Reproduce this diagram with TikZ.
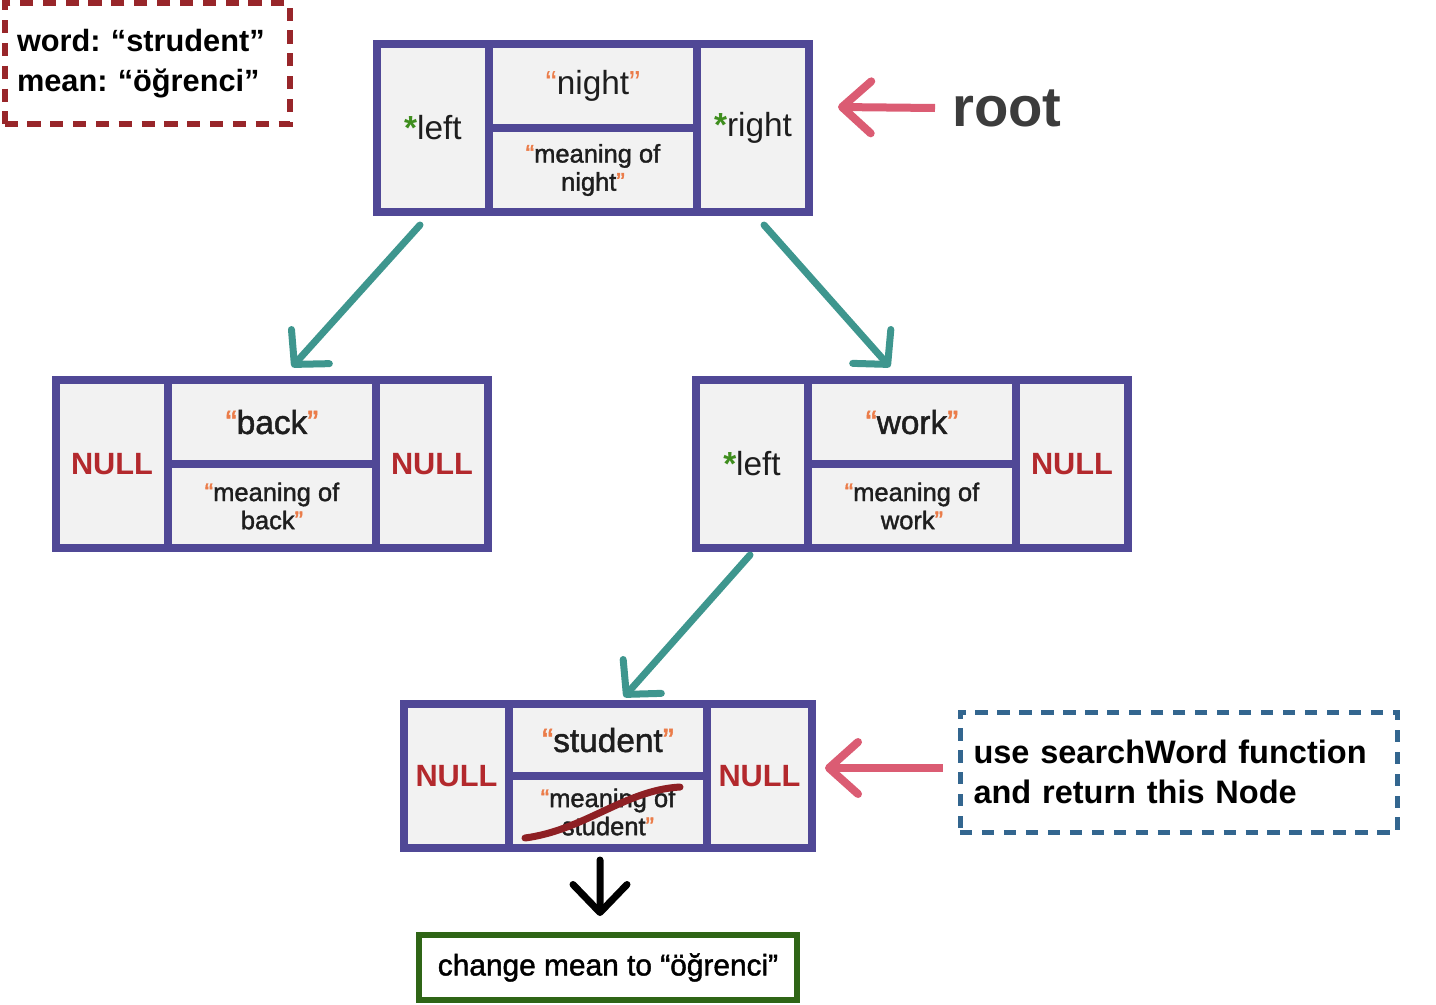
\documentclass[tikz,border=0pt]{standalone}
\usepackage{fontspec}
\setmainfont{Liberation Sans}
\newfontfamily\mediumfont{Liberation Sans}[FakeBold=1.5]
\usetikzlibrary{arrows.meta}
\definecolor{nodeframe}{RGB}{80,72,150}
\definecolor{cellfill}{RGB}{242,242,242}
\definecolor{edgeteal}{RGB}{62,150,142}
\definecolor{nullred}{RGB}{179,41,45}
\definecolor{stargreen}{RGB}{63,142,30}
\definecolor{quoteorange}{RGB}{235,124,73}
\definecolor{pointerpink}{RGB}{219,92,115}
\definecolor{inputred}{RGB}{152,38,42}
\definecolor{noteblue}{RGB}{51,102,143}
\definecolor{resultgreen}{RGB}{47,101,22}
\definecolor{strikered}{RGB}{142,32,36}
\definecolor{rootgray}{RGB}{60,60,60}
\definecolor{inktext}{RGB}{30,30,30}
\newlength{\px}
\setlength{\px}{0.02cm}
\newcommand{\quoted}[1]{{\color{quoteorange}“}#1{\color{quoteorange}”}}
\newcommand{\ptr}[1]{{\bfseries\color{stargreen}*}#1}
\newcommand{\nullPtr}[0]{{\bfseries\color{nullred}NULL}}
\newcommand{\wordSize}[0]{\fontsize{19}{22}\selectfont}
\newcommand{\meanSize}[0]{\fontsize{14.5}{16}\selectfont}
\newcommand{\nullSize}[0]{\fontsize{17.5}{20}\selectfont}
\frenchspacing

\begin{document}
\begin{tikzpicture}[x=0.02cm, y=-0.02cm]
  \tikzset{
    cell/.style 2 args={draw=nodeframe, fill=cellfill, line width=8*\px,
      minimum width=#1*\px, minimum height=#2*\px, inner sep=0pt, outer sep=0pt,
      anchor=north west, align=center, text=inktext},
    child/.style={draw=edgeteal, line width=7*\px, line cap=round,
      -{Straight Barb[round, length=0.48cm, width=1.02cm]}},
    pointer/.style={draw=pointerpink, line width=8*\px,
      -{Straight Barb[round, length=0.58cm, width=1.04cm]}},
    result/.style={draw=black, line width=7*\px, line cap=round,
      -{Straight Barb[round, length=0.56cm, width=1.08cm]}},
    inputBox/.style={draw=inputred, line width=6*\px, dash pattern=on 7.5pt off 5.5pt,
      minimum width=285*\px, minimum height=121*\px, text width=260*\px,
      inner sep=0pt, align=left, font=\fontsize{17.5}{22.7}\selectfont\bfseries},
    noteBox/.style={draw=noteblue, line width=5*\px, dash pattern=on 7pt off 5.5pt,
      minimum width=437*\px, minimum height=120*\px, text width=410*\px,
      inner sep=0pt, align=left, font=\fontsize{18.5}{22.7}\selectfont\bfseries},
    resultBox/.style={draw=resultgreen, line width=6*\px,
      minimum width=378*\px, minimum height=65*\px, inner sep=0pt,
      font=\fontsize{17}{20}\selectfont\mediumfont}
  }
  \useasboundingbox (0,0) rectangle (1436,1004);

  \node[inputBox] (input) at (147,63.5) {word: “strudent”\\mean: “öğrenci”};

  % root
  \node[cell={112}{168}, font=\wordSize] (rootL) at (377,44) {\ptr{left}};
  \node[cell={208}{84}, font=\wordSize] (rootW) at (rootL.north east) {\quoted{night}};
  \node[cell={208}{84}, font=\meanSize\mediumfont] (rootM) at (rootW.south west) {\quoted{meaning of\\night}};
  \node[cell={112}{168}, font=\wordSize] (rootR) at (rootW.north east) {\ptr{right}};
  \node[anchor=west, inner sep=0pt, text=rootgray,
    font=\fontsize{32}{36}\selectfont\bfseries] (rootTag) at (952,108) {root};

  % back
  \node[cell={112}{168}, font=\nullSize] (backL) at (56,380) {\nullPtr};
  \node[cell={208}{84}, font=\wordSize\mediumfont] (backW) at (backL.north east) {\quoted{back}};
  \node[cell={208}{84}, font=\meanSize\mediumfont] (backM) at (backW.south west) {\quoted{meaning of\\back}};
  \node[cell={112}{168}, font=\nullSize] (backR) at (backW.north east) {\nullPtr};

  % work
  \node[cell={112}{168}, font=\wordSize] (workL) at (696,380) {\ptr{left}};
  \node[cell={208}{84}, font=\wordSize\mediumfont] (workW) at (workL.north east) {\quoted{work}};
  \node[cell={208}{84}, font=\meanSize\mediumfont] (workM) at (workW.south west) {\quoted{meaning of\\work}};
  \node[cell={112}{168}, font=\nullSize] (workR) at (workW.north east) {\nullPtr};

  % student
  \node[cell={105}{144}, font=\nullSize] (stuL) at (404,704) {\nullPtr};
  \node[cell={198}{72}, font=\wordSize\mediumfont] (stuW) at (stuL.north east) {\quoted{student}};
  \node[cell={198}{72}, font=\meanSize\mediumfont] (stuM) at (stuW.south west) {\quoted{meaning of\\student}};
  \node[cell={105}{144}, font=\nullSize] (stuR) at (stuW.north east) {\nullPtr};
  \draw[strikered, line width=7*\px, line cap=round]
    (525,838) .. controls (585,830) and (625,790) .. (680,787);

  \node[noteBox] (search) at (1178.5,772) {use searchWord function\\and return this Node};
  \node[resultBox] (change) at (608,967.5) {change mean to “öğrenci”};

  \draw[child] ([shift={(-13,13)}]rootL.south) -- ([shift={(20,-13)}]backW.north);
  \draw[child] ([shift={(11,13)}]rootR.south) -- ([shift={(-22,-13)}]workW.north);
  \draw[child] ([shift={(-2,7)}]workL.south) -- ([shift={(16,-7)}]stuW.north);
  \draw[pointer] ([shift={(-17,0)}]rootTag.west) -- ([shift={(29,-21)}]rootR.east);
  \draw[pointer] ([shift={(-15,-4)}]search.west) -- ([shift={(13,-8)}]stuR.east);
  \draw[result] ([shift={(-8,12)}]stuM.south) -- ([shift={(-8,-16)}]change.north);
\end{tikzpicture}
\end{document}
